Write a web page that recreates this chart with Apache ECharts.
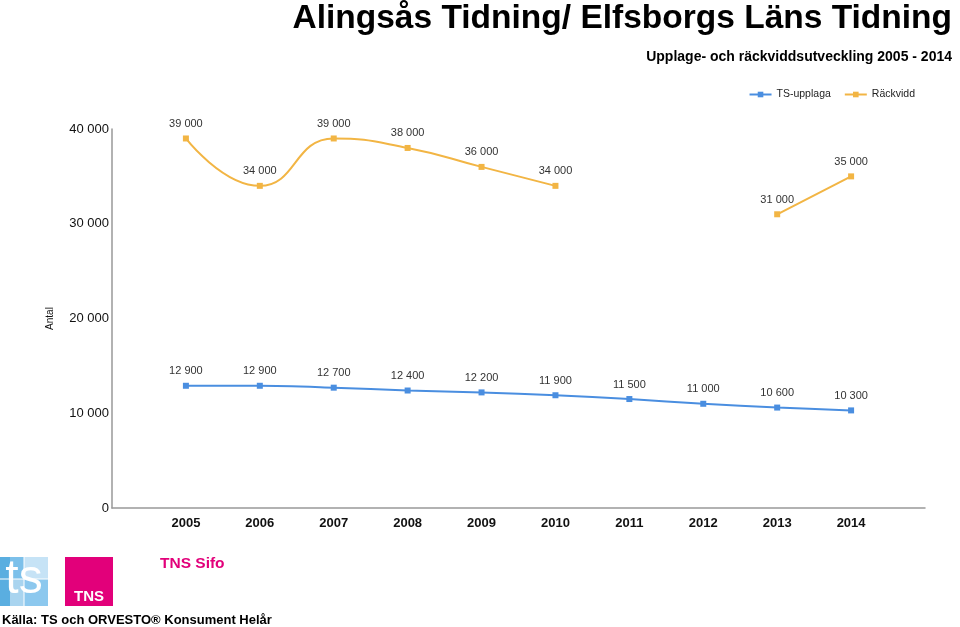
<!DOCTYPE html>
<html><head><meta charset="utf-8">
<script src="https://cdn.jsdelivr.net/npm/echarts@6/dist/echarts.min.js"></script>
<style>html,body{margin:0;padding:0;background:#fff}#c{width:960px;height:627px}</style>
</head><body><div id="c"></div>
<script>
const years = ['2005','2006','2007','2008','2009','2010','2011','2012','2013','2014'];
const tsUpplaga = [12900,12900,12700,12400,12200,11900,11500,11000,10600,10300];
const rackvidd = [39000,34000,39000,38000,36000,34000,null,null,31000,35000];
const yTicks = [0,10000,20000,30000,40000];

const fmt = v => String(v).replace(/\B(?=(\d{3})+(?!\d))/g, ' ');
const cats = [''].concat(years).concat(['']);
const pad = arr => [null].concat(arr).concat([null]);

const chart = echarts.init(document.getElementById('c'));
chart.setOption({
  animation:false,
  textStyle:{fontFamily:'Liberation Sans, Arial, sans-serif'},
  title:[
    {text:'Alingsås Tidning/ Elfsborgs Läns Tidning', right:3, top:-3,
     textStyle:{fontSize:33.5,fontWeight:'bold',color:'#000',fontFamily:'Liberation Sans, Arial'}},
    {text:'Upplage- och räckviddsutveckling 2005 - 2014', right:3, top:45,
     textStyle:{fontSize:14,fontWeight:'bold',color:'#000',fontFamily:'Liberation Sans, Arial'}}
  ],
  legend:{
    right:40, top:84, itemWidth:22, itemHeight:7, itemGap:13,
    textStyle:{fontSize:10.5,color:'#222'},
    data:['TS-upplaga','Räckvidd']
  },
  grid:{left:112,right:35,top:129,bottom:119,containLabel:false},
  xAxis:{
    type:'category', data:cats, boundaryGap:false,
    axisLine:{lineStyle:{color:'#999',width:1.5}},
    axisTick:{show:false},
    axisLabel:{fontSize:13,fontWeight:'bold',color:'#111',margin:9,interval:0},
    splitLine:{show:false}
  },
  yAxis:{
    type:'value', min:0, max:40000, interval:10000,
    name:'Antal', nameLocation:'middle', nameGap:57, nameRotate:90,
    nameTextStyle:{fontSize:10,color:'#111'},
    axisLine:{show:true,lineStyle:{color:'#999',width:1.5}},
    axisTick:{show:false},
    splitLine:{show:false},
    axisLabel:{fontSize:13,color:'#111',margin:3,
      formatter:v => yTicks.indexOf(v)>=0 ? fmt(v) : ''}
  },
  series:[
    {name:'TS-upplaga', type:'line', data:pad(tsUpplaga), smooth:0.3,
     symbol:'rect', symbolSize:6, connectNulls:false,
     itemStyle:{color:'#4a8ee0'}, lineStyle:{color:'#4a8ee0',width:2},
     label:{show:true,position:'top',distance:6,fontSize:11,color:'#333',formatter:p=>fmt(p.value)}},
    {name:'Räckvidd', type:'line', data:pad(rackvidd), smooth:0.5,
     symbol:'rect', symbolSize:6, connectNulls:false,
     itemStyle:{color:'#f2b544'}, lineStyle:{color:'#f2b544',width:2},
     label:{show:true,position:'top',distance:6,fontSize:11,color:'#333',formatter:p=>fmt(p.value)}}
  ],
  graphic:[
    // TS logo
    {type:'group', x:0, y:557, children:[
      {type:'rect', shape:{x:0,y:0,width:48,height:49}, style:{fill:'#a9d4ef'}},
      {type:'rect', shape:{x:0,y:0,width:10,height:49}, style:{fill:'#5aaee0'}},
      {type:'rect', shape:{x:10,y:0,width:14,height:22}, style:{fill:'#7cc0ea'}},
      {type:'rect', shape:{x:24,y:0,width:24,height:22}, style:{fill:'#c6e3f6'}},
      {type:'rect', shape:{x:24,y:22,width:24,height:27}, style:{fill:'#8cc8ee'}},
      {type:'line', shape:{x1:0,y1:22,x2:48,y2:22}, style:{stroke:'#fff',lineWidth:1}},
      {type:'line', shape:{x1:24,y1:0,x2:24,y2:49}, style:{stroke:'#fff',lineWidth:1}},
      {type:'text', style:{text:'ts', x:24, y:47, fontSize:48, fontFamily:'Liberation Sans, Arial', fill:'#fff', textAlign:'center', textVerticalAlign:'bottom'}}
    ]},
    // TNS logo
    {type:'rect', shape:{x:65,y:557,width:48,height:49}, style:{fill:'#e2007a'}},
    {type:'text', style:{text:'TNS', x:89, y:604, fontSize:15, fontWeight:'bold', fontFamily:'Liberation Sans Narrow, Liberation Sans, Arial', fill:'#fff', textAlign:'center', textVerticalAlign:'bottom'}},
    {type:'text', style:{text:'TNS Sifo', x:160, y:564, fontSize:15.5, fontWeight:'bold', fontFamily:'Liberation Sans, Arial', fill:'#e2007a', textVerticalAlign:'middle'}},
    {type:'text', style:{text:'Källa: TS och ORVESTO® Konsument Helår', x:2, y:620, fontSize:13, fontWeight:'bold', fontFamily:'Liberation Sans, Arial', fill:'#000', textVerticalAlign:'middle'}}
  ]
});
</script></body></html>
